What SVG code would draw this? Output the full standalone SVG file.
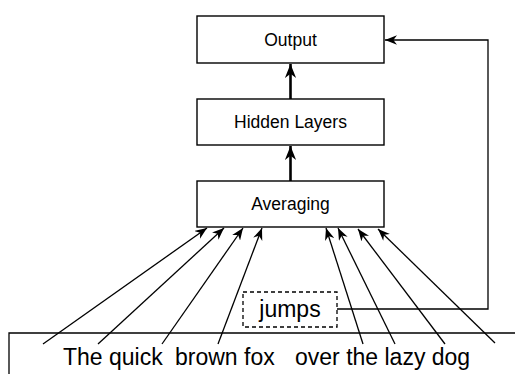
<svg xmlns="http://www.w3.org/2000/svg" width="515" height="374" viewBox="0 0 515 374">
  <style>
    .box { fill: #ffffff; stroke: #000000; stroke-width: 1.4; }
    .lbl { font-family: "Liberation Sans", Arial, sans-serif; font-size: 17.5px; fill: #000000; text-anchor: middle; }
    .word { font-family: "Liberation Sans", Arial, sans-serif; font-size: 23px; fill: #000000; }
    .thin { fill: none; stroke: #000000; stroke-width: 1.3; }
    .thick { fill: none; stroke: #000000; stroke-width: 2.6; }
    .dash { fill: #ffffff; stroke: #000000; stroke-width: 1.3; stroke-dasharray: 4 3; }
  </style>
  <defs>
    <marker id="arrow" viewBox="0 0 10 8" refX="10" refY="4" markerWidth="12" markerHeight="10" markerUnits="userSpaceOnUse" orient="auto">
      <path d="M0,0 L10,4 L0,8 L3,4 Z" fill="#000000"/>
    </marker>
    <marker id="arrowBig" viewBox="0 0 10 8" refX="10" refY="4" markerWidth="14" markerHeight="12" markerUnits="userSpaceOnUse" orient="auto">
      <path d="M0,0 L10,4 L0,8 L3,4 Z" fill="#000000"/>
    </marker>
  </defs>

  <!-- sentence strip -->
  <g id="sentence">
    <path d="M9,374 L9,333 L515,333" class="thin"/>
    <text class="word" x="63" y="365">The quick</text>
    <text class="word" x="175" y="365">brown fox</text>
    <text class="word" x="295" y="365">over the lazy dog</text>
  </g>

  <!-- model stack -->
  <g id="output">
    <rect class="box" x="197" y="16" width="187" height="47"/>
    <text class="lbl" x="290.5" y="46">Output</text>
  </g>
  <g id="hidden">
    <rect class="box" x="197" y="99" width="187" height="46"/>
    <text class="lbl" x="290.5" y="128">Hidden Layers</text>
  </g>
  <g id="averaging">
    <rect class="box" x="197" y="181" width="187" height="46"/>
    <text class="lbl" x="290.5" y="210">Averaging</text>
  </g>

  <!-- held-out centre word -->
  <g id="jumps">
    <rect class="dash" x="243" y="292" width="94" height="35"/>
    <text class="word" x="290" y="317" text-anchor="middle">jumps</text>
  </g>

  <g id="connectors">
    <line class="thick" x1="290.5" y1="181" x2="290.5" y2="146" marker-end="url(#arrowBig)"/>
    <line class="thick" x1="290.5" y1="99" x2="290.5" y2="64" marker-end="url(#arrowBig)"/>

    <line class="thin" x1="43" y1="344" x2="207" y2="228" marker-end="url(#arrow)"/>
    <line class="thin" x1="98" y1="344" x2="224" y2="228" marker-end="url(#arrow)"/>
    <line class="thin" x1="162" y1="344" x2="243" y2="228" marker-end="url(#arrow)"/>
    <line class="thin" x1="218" y1="344" x2="262" y2="228" marker-end="url(#arrow)"/>
    <line class="thin" x1="363" y1="344" x2="326" y2="228" marker-end="url(#arrow)"/>
    <line class="thin" x1="395" y1="344" x2="338" y2="228" marker-end="url(#arrow)"/>
    <line class="thin" x1="445" y1="344" x2="358" y2="229" marker-end="url(#arrow)"/>
    <line class="thin" x1="495" y1="343" x2="378" y2="229" marker-end="url(#arrow)"/>

    <path class="thin" d="M337,309 L488,309 L488,40 L385,40" marker-end="url(#arrow)"/>
  </g>
</svg>
